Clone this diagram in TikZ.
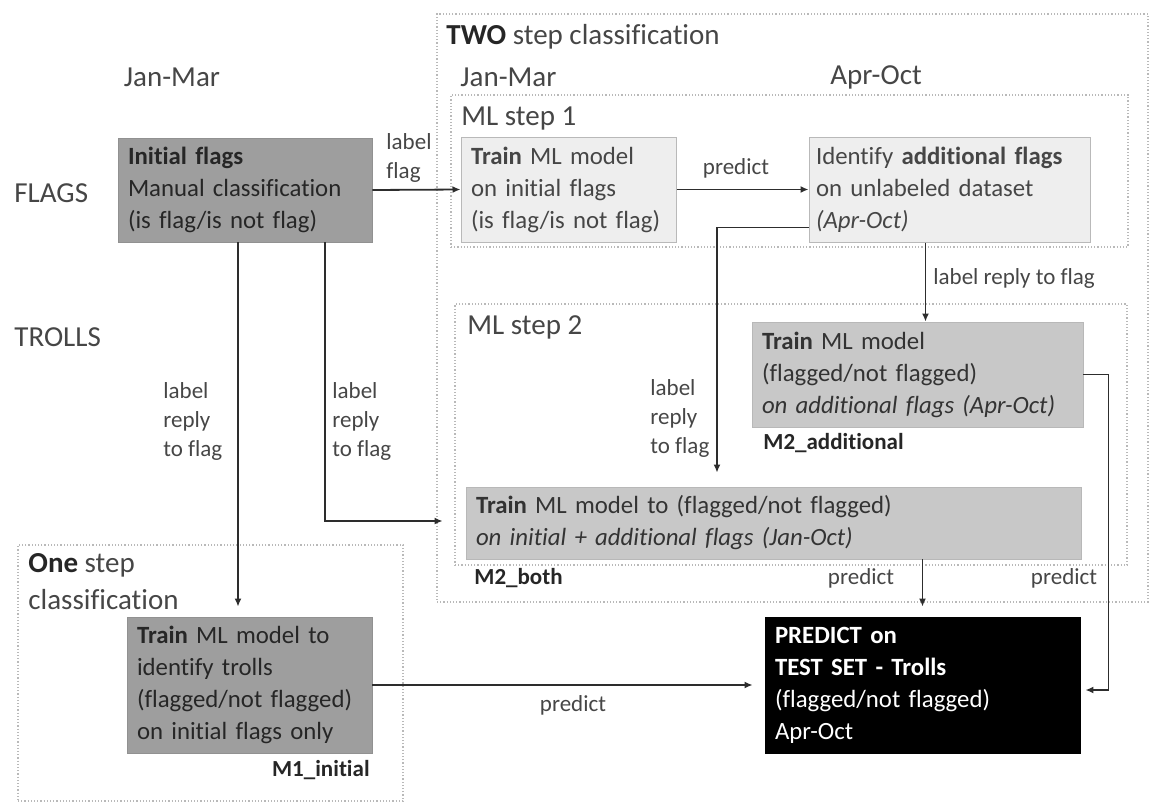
\documentclass[tikz,border=0pt]{standalone}
\usepackage{fontspec}
\setmainfont{Carlito}[RawFeature=-liga]
\usetikzlibrary{arrows.meta, calc}
\definecolor{boxdark}{RGB}{158,158,158}
\definecolor{boxmid}{RGB}{200,200,200}
\definecolor{boxlight}{RGB}{238,238,238}
\definecolor{framegray}{RGB}{185,185,185}
\definecolor{inkgray}{RGB}{70,70,70}
\definecolor{linegray}{RGB}{45,45,45}
\newcommand{\bxfont}{\fontsize{12.4}{16}\selectfont}
\newcommand{\lbfont}{\fontsize{11.5}{14.5}\selectfont}
\newcommand{\hdfont}{\fontsize{14.5}{18.5}\selectfont}
\tikzset{
  groupbox/.style={
    rectangle, draw=framegray, densely dotted, line width=0.6pt, inner sep=0pt
  },
  databox/.style={
    rectangle, inner xsep=5pt, inner ysep=0pt, align=left, font=\bxfont
  },
  darkbox/.style={databox, fill=boxdark, draw=boxdark!92!black, line width=0.4pt,
    text=black!85},
  midbox/.style={databox, fill=boxmid, draw=boxmid!92!black, line width=0.4pt,
    text=black!80},
  lightbox/.style={databox, fill=boxlight, draw=framegray, line width=0.5pt,
    text=inkgray},
  blackbox/.style={databox, fill=black, draw=black, text=white},
  head/.style={font=\hdfont, text=inkgray, inner sep=0pt, align=left},
  lab/.style={font=\lbfont, text=inkgray, inner sep=0pt, align=left},
  modelname/.style={font=\lbfont\bfseries, text=black!85, inner sep=0pt},
  arrow/.style={-{Latex[length=4pt, width=3.5pt]}, line width=0.9pt, color=linegray}
}
\begin{document}
\begin{tikzpicture}[x=0.5pt, y=-0.5pt]
  \path[use as bounding box] (0,0) rectangle (1151,803);

  % group frames
  \node[groupbox, minimum width=355.5pt, minimum height=294pt] (two)   at (792.5,308) {};
  \node[groupbox, minimum width=338.5pt, minimum height=76pt]  (step1) at (789.5,171) {};
  \node[groupbox, minimum width=336pt,   minimum height=130.5pt] (step2) at (791,434.5) {};
  \node[groupbox, minimum width=192.5pt, minimum height=128pt] (one)   at (210.5,673) {};

  % headings
  \node[head, anchor=west] (twotitle)   at (446,37)  {\textbf{\color{black!85}TWO} step classification};
  \node[head, anchor=west] (step1title) at (461,119) {ML step 1};
  \node[head, anchor=west] (step2title) at (467,327) {ML step 2};
  \node[head, anchor=north west] (onetitle) at (28,553)
    {\textbf{\color{black!85}One} step\\classification};
  \node[head] (janmar)  at (172,77)               {Jan-Mar};
  \node[head, anchor=west] (janmar2) at (460,77) {Jan-Mar};
  \node[head, anchor=west] (aproct)  at (830,77) {Apr-Oct};
  \node[head, anchor=west] (flags)   at (14,193) {FLAGS};
  \node[head, anchor=west] (trolls)  at (14,337) {TROLLS};

  % boxes
  \node[darkbox, text width=117pt, minimum height=52pt] (init) at (245,190)
    {\textbf{Initial flags}\\Manual classification\\(is flag/is not flag)};
  \node[lightbox, text width=97.5pt, minimum height=52.5pt] (train1) at (568.5,189.5)
    {\textbf{Train} ML model\\on initial flags\\(is flag/is not flag)};
  \node[lightbox, inner xsep=3.5pt, text width=133.5pt, minimum height=52.5pt] (ident) at (949.5,189.5)
    {Identify \textbf{additional flags}\\on unlabeled dataset\\\textit{(Apr-Oct)}};
  \node[midbox, text width=155.5pt, minimum height=52.5pt] (add) at (917.5,374.5)
    {\textbf{Train} ML model\\(flagged/not flagged)\\\textit{on additional flags (Apr-Oct)}};
  \node[midbox, text width=297.5pt, minimum height=36pt] (both) at (773.5,523)
    {\textbf{Train} ML model to (flagged/not flagged)\\\textit{on initial + additional flags (Jan-Oct)}};
  \node[darkbox, text width=112.5pt, minimum height=68pt] (m1) at (249.5,685)
    {\textbf{Train} ML model to\\identify trolls\\(flagged/not flagged)\\on initial flags only};
  \node[blackbox, text width=147.5pt, minimum height=68pt] (predict) at (922.5,685)
    {\textbf{PREDICT on}\\\textbf{TEST SET - Trolls}\\(flagged/not flagged)\\Apr-Oct};

  % model names
  \node[modelname, anchor=west] (m2addname)  at (763,443) {M2\_additional};
  \node[modelname, anchor=west] (m2bothname) at (474,578) {M2\_both};
  \node[modelname, anchor=east] (m1name)     at (370,770) {M1\_initial};

  % connector labels
  \node[lab] (lblflag)   at (409,158) {label\\flag};
  \node[lab] (lblpred1)  at (736,168) {predict};
  \node[lab, anchor=west] (lblreply3) at (933,278) {label reply to flag};
  \node[lab, anchor=west] (lblreply2) at (650,418) {label\\reply\\to flag};
  \node[lab, anchor=west] (lblreply0) at (163,421) {label\\reply\\to flag};
  \node[lab, anchor=west] (lblreply1) at (332,421) {label\\reply\\to flag};
  \node[lab] (lblpred2) at (861,578) {predict};
  \node[lab] (lblpred3) at (1064,578) {predict};
  \node[lab] (lblpred4) at (573,705) {predict};

  % connectors
  \draw[arrow] (init.east) -- (train1.west);
  \draw[arrow] (train1.east) -- (ident.west);
  \draw[arrow, shorten >=7pt] ([yshift=7.5pt]ident.south west) -| (717,0 |- both.north);
  \draw[arrow] ([xshift=-12pt]ident.south) -- ([xshift=-12pt]ident.south |- add.north);
  \draw[arrow, shorten >=5pt] ([xshift=-3.5pt]init.south) -- ([xshift=-3.5pt]init.south |- m1.north);
  \draw[arrow, shorten >=11.5pt] ([xshift=40pt]init.south) |- ([yshift=1pt]both.west);
  \draw[arrow, shorten >=5pt] (both.south -| predict.north) -- (predict.north);
  \draw[arrow, shorten >=2.5pt] (add.east) -- ++(25,0) |- ([yshift=-2.5pt]predict.east);
  \draw[arrow, shorten >=6pt] (m1.east) -- (predict.west);
\end{tikzpicture}
\end{document}
